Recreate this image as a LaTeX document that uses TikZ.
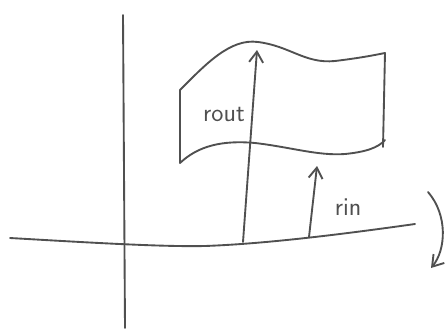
\documentclass[tikz,border=0pt]{standalone}
\usepackage{tikz}
\usetikzlibrary{arrows.meta}
\definecolor{penGray}{HTML}{505050}
\tikzset{
  pen/.style={draw=penGray, line width=1.6pt, line cap=round, line join=round},
  vec/.style={pen, -{Straight Barb[length=3.2mm, width=4.2mm]}},
  hand label/.style={font=\sffamily\fontsize{22}{22}\selectfont, text=penGray, inner sep=0pt}
}
\begin{document}
\begin{tikzpicture}[x=0.03cm, y=-0.03cm]
  \useasboundingbox (0,0) rectangle (445,330);
  % axes
  \draw[pen] (123,15) -- (125,328);
  \draw[pen] (10,238) .. controls (80,242) and (160,247) .. (205,246)
    .. controls (260,244) and (330,236) .. (415,224);
  % flag
  \coordinate (ftl) at (180,90);
  \coordinate (fbl) at (180,163);
  \coordinate (ftr) at (385,53);
  \coordinate (fbr) at (383,147);
  \draw[pen] (fbl) -- (ftl);
  \draw[pen] (ftl) .. controls (205,65) and (230,38) .. (258,42)
    .. controls (290,46) and (305,64) .. (335,61)
    .. controls (360,58) and (375,55) .. (ftr);
  \draw[pen] (ftr) -- (fbr);
  \draw[pen] (fbl) .. controls (198,146) and (222,140) .. (255,143)
    .. controls (290,147) and (318,156) .. (345,154)
    .. controls (365,152) and (378,148) .. (385,140);
  % radius arrows
  \coordinate (rout0) at (243,242);
  \coordinate (rout1) at (257,50);
  \coordinate (rin0) at (309,237);
  \coordinate (rin1) at (317,166);
  \draw[vec] (rout0) -- (rout1);
  \draw[vec] (rin0) -- (rin1);
  \node[hand label] (lout) at (224,114) {rout};
  \node[hand label] (lin) at (348,207) {rin};
  % rotation
  \coordinate (rot0) at (428,192);
  \coordinate (rot1) at (431,268);
  \draw[vec] (rot0) .. controls (448,215) and (446,250) .. (rot1);
\end{tikzpicture}
\end{document}
